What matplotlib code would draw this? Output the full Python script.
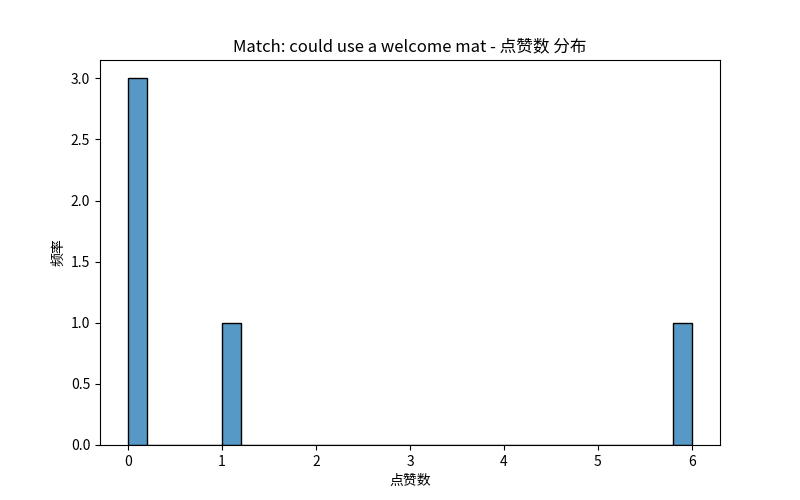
import matplotlib
matplotlib.use("Agg")
import matplotlib.pyplot as plt
import seaborn as sns

# like counts of the matched posts
likes = [0, 0, 0, 1, 6]
match_name = "could use a welcome mat"
n_bins = 30

plt.rcParams["font.family"] = ["Noto Sans CJK SC", "DejaVu Sans"]
plt.rcParams["axes.unicode_minus"] = False

fig, ax = plt.subplots(figsize=(8, 5), dpi=100)
sns.histplot(likes, bins=n_bins, ax=ax, color="#1f77b4", alpha=0.75, edgecolor="black")
ax.set_title(f"Match: {match_name} - 点赞数 分布")
ax.set_xlabel("点赞数")
ax.set_ylabel("频率")
fig.savefig("out.png", dpi=100)
